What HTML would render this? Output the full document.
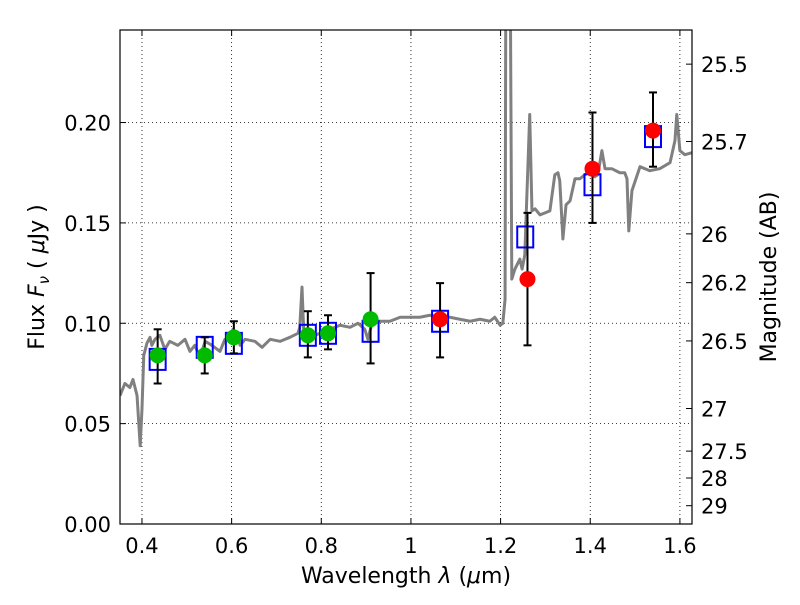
<!DOCTYPE html>
<html><head><meta charset="utf-8"><style>
body{margin:0;background:#fff;}
svg{font-family:"DejaVu Sans","Liberation Sans",sans-serif;}
</style></head><body>
<svg id="chart" width="800" height="600" xmlns="http://www.w3.org/2000/svg">
<rect width="800" height="600" fill="#fff"/>
<g id="grid"></g>
<g id="plot"></g>
<g id="axes"></g>
<text x="406" y="583" font-size="22" text-anchor="middle">Wavelength  <tspan font-style="italic">λ</tspan> (<tspan font-style="italic">μ</tspan>m)</text>
<text transform="translate(44,277) rotate(-90)" font-size="22" text-anchor="middle">Flux  <tspan font-style="italic">F</tspan><tspan font-style="italic" font-size="15" dy="5">ν</tspan><tspan dy="-5">  ( </tspan><tspan font-style="italic">μ</tspan>Jy )</text>
<text transform="translate(776,277) rotate(-90)" font-size="22" text-anchor="middle">Magnitude (AB)</text>
</svg>
<script>
const specLam=[0.351,0.362,0.373,0.380,0.389,0.396,0.400,0.404,0.411,0.418,0.422,0.429,0.440,0.451,0.462,0.480,0.496,0.507,0.518,0.529,0.541,0.556,0.574,0.585,0.596,0.603,0.610,0.619,0.630,0.652,0.668,0.686,0.708,0.730,0.748,0.752,0.757,0.761,0.775,0.797,0.819,0.842,0.864,0.882,0.897,0.904,0.913,0.931,0.953,0.976,0.998,1.020,1.042,1.065,1.087,1.109,1.132,1.154,1.176,1.187,1.199,1.205,1.210,1.212,1.221,1.225,1.232,1.243,1.248,1.254,1.265,1.270,1.277,1.288,1.299,1.310,1.321,1.328,1.332,1.339,1.346,1.355,1.366,1.377,1.388,1.399,1.410,1.417,1.426,1.433,1.448,1.466,1.477,1.482,1.486,1.493,1.511,1.533,1.555,1.578,1.589,1.593,1.600,1.611,1.627];
const specFlux=[0.064,0.070,0.068,0.072,0.064,0.039,0.057,0.084,0.090,0.093,0.089,0.092,0.094,0.087,0.091,0.089,0.092,0.086,0.089,0.083,0.091,0.089,0.086,0.092,0.093,0.097,0.095,0.089,0.092,0.091,0.088,0.092,0.091,0.093,0.095,0.098,0.118,0.095,0.093,0.095,0.097,0.099,0.098,0.100,0.097,0.092,0.100,0.101,0.101,0.103,0.103,0.103,0.104,0.103,0.103,0.102,0.101,0.102,0.101,0.103,0.099,0.100,0.112,0.300,0.300,0.122,0.127,0.132,0.127,0.134,0.204,0.156,0.157,0.154,0.155,0.156,0.174,0.175,0.171,0.142,0.159,0.161,0.172,0.172,0.174,0.176,0.173,0.174,0.186,0.177,0.177,0.175,0.175,0.172,0.146,0.166,0.178,0.176,0.177,0.180,0.191,0.204,0.186,0.184,0.185];
const greenLam=[0.435,0.54,0.605,0.77,0.815,0.91];
const greenFlux=[0.084,0.084,0.093,0.094,0.095,0.102];
const greenLo=[0.070,0.075,0.085,0.083,0.087,0.080];
const greenHi=[0.097,0.093,0.101,0.106,0.104,0.125];
const redLam=[1.065,1.26,1.405,1.54];
const redFlux=[0.102,0.122,0.177,0.196];
const redLo=[0.083,0.089,0.150,0.178];
const redHi=[0.120,0.155,0.205,0.215];
const modelLam=[0.435,0.54,0.605,0.77,0.815,0.91,1.065,1.255,1.405,1.54];
const modelFlux=[0.082,0.088,0.090,0.094,0.095,0.096,0.101,0.143,0.169,0.193];
const xTicks=[0.4,0.6,0.8,1.0,1.2,1.4,1.6];
const xTickLabels=["0.4","0.6","0.8","1","1.2","1.4","1.6"];
const yTicks=[0,0.05,0.10,0.15,0.20];
const yTickLabels=["0.00","0.05","0.10","0.15","0.20"];
const magTicks=[25.5,25.7,26,26.2,26.5,27,27.5,28,29];
const magLabels=["25.5","25.7","26","26.2","26.5","27","27.5","28","29"];

const L=120,R=692,T=30,B=524,XMIN=0.351,XMAX=1.627,YMIN=0,YMAX=0.2461;
const sx=v=>L+(v-XMIN)/(XMAX-XMIN)*(R-L);
const sy=v=>B-(v-YMIN)/(YMAX-YMIN)*(B-T);
const NS="http://www.w3.org/2000/svg";
function mk(tag,attrs,parent){const e=document.createElementNS(NS,tag);for(const k in attrs)e.setAttribute(k,attrs[k]);parent.appendChild(e);return e;}
const grid=document.getElementById('grid'),plot=document.getElementById('plot'),axes=document.getElementById('axes');
const clip=mk('clipPath',{id:'cp'},document.getElementById('chart'));
mk('rect',{x:L,y:T,width:R-L,height:B-T},clip);
plot.setAttribute('clip-path','url(#cp)');

xTicks.forEach((v,i)=>{
  const g=mk('line',{x1:sx(v),x2:sx(v),y1:T,y2:B,stroke:'#000','stroke-width':0.8,'stroke-dasharray':'1,3'},grid);
  
  
  mk('line',{x1:sx(v),x2:sx(v),y1:B,y2:B-6,stroke:'#000'},axes);
  mk('line',{x1:sx(v),x2:sx(v),y1:T,y2:T+6,stroke:'#000'},axes);
  const t=mk('text',{x:sx(v),y:B+29,'font-size':21,'text-anchor':'middle'},axes);
  t.textContent=xTickLabels[i];
  
  
});
yTicks.forEach((v,i)=>{
  const g=mk('line',{x1:L,x2:R,y1:sy(v),y2:sy(v),stroke:'#000','stroke-width':0.8,'stroke-dasharray':'1,3'},grid);
  
  
  mk('line',{x1:L,x2:L+6,y1:sy(v),y2:sy(v),stroke:'#000'},axes);
  const t=mk('text',{x:L-9,y:sy(v)+8,'font-size':21,'text-anchor':'end'},axes);
  t.textContent=yTickLabels[i];
  
  
});
magTicks.forEach((m,i)=>{
  const f=Math.pow(10,(23.9-m)/2.5);
  mk('line',{x1:R,x2:R-6,y1:sy(f),y2:sy(f),stroke:'#000'},axes);
  const t=mk('text',{x:R+9,y:sy(f)+8,'font-size':21},axes);
  t.textContent=magLabels[i];
  
  
});
mk('rect',{x:L,y:T,width:R-L,height:B-T,fill:'none',stroke:'#000','stroke-width':1.2},axes);

const sp=mk('polyline',{points:specLam.map((l,i)=>sx(l)+','+sy(specFlux[i])).join(' '),fill:'none',stroke:'#808080','stroke-width':3,'stroke-linejoin':'round'},plot);



function errs(lam,lo,hi,name){lam.forEach((l,i)=>{
  const g=mk('g',{stroke:'#000','stroke-width':2},plot);
  
  
  mk('line',{x1:sx(l),x2:sx(l),y1:sy(lo[i]),y2:sy(hi[i])},g);
  mk('line',{x1:sx(l)-4,x2:sx(l)+4,y1:sy(lo[i]),y2:sy(lo[i])},g);
  mk('line',{x1:sx(l)-4,x2:sx(l)+4,y1:sy(hi[i]),y2:sy(hi[i])},g);
});}
modelLam.forEach((l,i)=>{
  const r=mk('rect',{x:sx(l)-8,y:sy(modelFlux[i])-10.5,width:16,height:21,fill:'none',stroke:'#0000ff','stroke-width':2},plot);
  
  
});
errs(greenLam,greenLo,greenHi,'green-error-bar');
errs(redLam,redLo,redHi,'red-error-bar');
greenLam.forEach((l,i)=>{
  const c=mk('circle',{cx:sx(l),cy:sy(greenFlux[i]),r:8,fill:'#00bb00'},plot);
  
  
});
redLam.forEach((l,i)=>{
  const c=mk('circle',{cx:sx(l),cy:sy(redFlux[i]),r:8,fill:'#ff0000'},plot);
  
  
});
</script>
</body></html>
